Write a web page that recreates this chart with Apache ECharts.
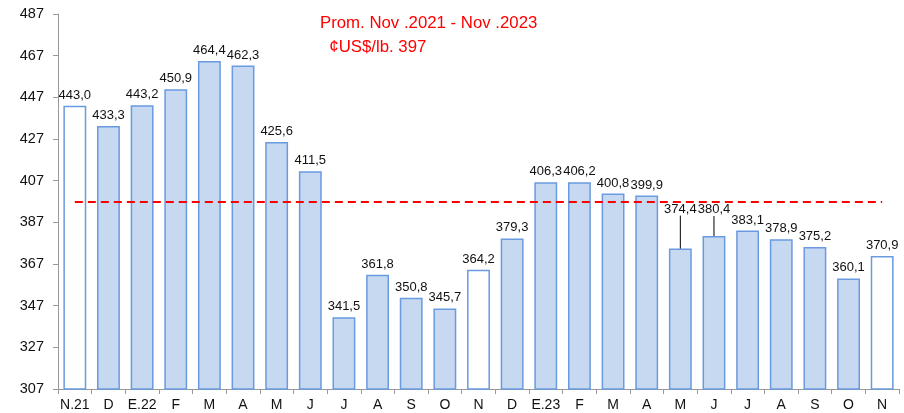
<!DOCTYPE html>
<html lang="es">
<head>
<meta charset="UTF-8">
<title>Precio promedio Nov 2021 - Nov 2023</title>
<style>
  html, body { margin: 0; padding: 0; background: #fff; }
  #chart { width: 904px; height: 413px; }
</style>
</head>
<body>
<div id="chart"></div>
<script src="https://cdn.jsdelivr.net/npm/echarts@6/dist/echarts.min.js"></script>
<script>
var months = ['N.21', 'D', 'E.22', 'F', 'M', 'A', 'M', 'J', 'J', 'A', 'S', 'O',
  'N', 'D', 'E.23', 'F', 'M', 'A', 'M', 'J', 'J', 'A', 'S', 'O', 'N'];
var prices = [443.0, 433.3, 443.2, 450.9, 464.4, 462.3, 425.6, 411.5, 341.5, 361.8, 350.8, 345.7,
  364.2, 379.3, 406.3, 406.2, 400.8, 399.9, 374.4, 380.4, 383.1, 378.9, 375.2, 360.1, 370.9];
var yTicks = [307, 327, 347, 367, 387, 407, 427, 447, 467, 487];
var average = 397;
var novIdx = [0, 12, 24];      // white bars
var liftIdx = { 18: -29, 19: -16 };  // labels pulled up with a guide line

var chart = echarts.init(document.getElementById('chart'));

var barData = prices.map(function (v, i) {
  var d = { value: v };
  if (novIdx.indexOf(i) >= 0) d.itemStyle = { color: '#ffffff' };
  if (liftIdx[i] !== undefined) d.labelLine = { show: true, lineStyle: { color: '#000', width: 1 } };
  return d;
});

var option = {
  animation: false,
  title: {
    text: 'Prom. Nov .2021 - Nov .2023\n  \u00a2US$/lb. ' + average,
    left: 320,
    top: 11,
    padding: 0,
    textStyle: {
      color: '#ff0000',
      fontSize: 16.8,
      fontWeight: 'normal',
      fontFamily: 'Liberation Sans, Arial, sans-serif',
      lineHeight: 24
    }
  },
  grid: { left: 58, right: 5, top: 14, bottom: 24 },
  xAxis: {
    type: 'category',
    data: months,
    boundaryGap: true,
    axisLine: { lineStyle: { color: '#999', width: 1 } },
    axisTick: { show: true, length: 5, lineStyle: { color: '#999' } },
    axisLabel: {
      color: '#111',
      fontSize: 14,
      fontFamily: 'Liberation Sans, Arial, sans-serif',
      margin: 9,
      interval: 0
    },
    splitLine: { show: false }
  },
  yAxis: {
    type: 'value',
    min: yTicks[0],
    max: yTicks[yTicks.length - 1],
    axisLine: { show: true, lineStyle: { color: '#999', width: 1 } },
    axisTick: { show: true, length: 5, lineStyle: { color: '#999' }, customValues: yTicks },
    axisLabel: {
      color: '#111',
      fontSize: 14.5,
      fontFamily: 'Liberation Sans, Arial, sans-serif',
      margin: 14,
      customValues: yTicks
    },
    splitLine: { show: false }
  },
  series: [{
    type: 'bar',
    data: barData,
    barWidth: '68%',
    itemStyle: { color: '#c6d9f1', borderColor: '#6a9ae0', borderWidth: 1.5 },
    label: {
      show: true,
      position: 'top',
      distance: 4,
      color: '#111',
      fontSize: 13,
      fontFamily: 'Liberation Sans, Arial, sans-serif',
      formatter: function (p) { return p.value.toFixed(1).replace('.', ','); }
    },
    labelLine: { show: false },
    labelLayout: function (p) {
      if (liftIdx[p.dataIndex] !== undefined) return { dy: liftIdx[p.dataIndex] };
      return {};
    },
    markLine: {
      silent: true,
      symbol: 'none',
      label: { show: false },
      lineStyle: { color: '#ff0000', type: [8, 5], width: 2 },
      data: [[{ coord: [0, average] }, { coord: [months.length - 1, average] }]]
    }
  }]
};

chart.setOption(option);
</script>
</body>
</html>
